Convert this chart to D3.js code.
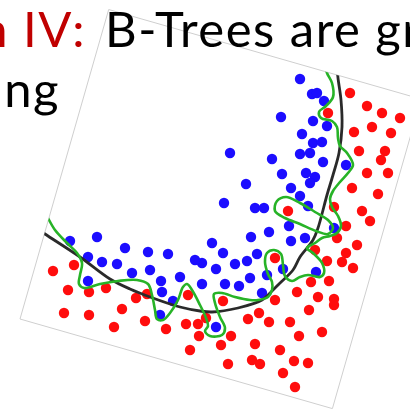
<!DOCTYPE html>
<html>
<head>
<meta charset="utf-8">
<script src="https://cdn.jsdelivr.net/npm/d3@7"></script>
<style>
  html, body { margin: 0; padding: 0; background: #fff; }
  svg { display: block; }
</style>
</head>
<body>
<script>
// points and curves (pixel units of the 410x409 frame)
const bluePts = [
  [300,79],[312,94],[317,93],[324,101],[281,117],[313,121],[327,126],[302,134],
  [313,143],[322,142],[230,153],[272,159],[300,154],[310,153],[323,162],[346,165],
  [282,174],[306,173],[315,177],[310,183],[246,184],[291,188],[300,196],[308,206],
  [224,203],[255,208],[264,208],[289,226],[269,232],[251,237],[305,238],[334,228],
  [212,243],[291,241],[223,253],[257,254],[247,261],[235,264],[202,263],[195,260],
  [216,269],[250,278],[267,275],[283,269],[316,272],[202,284],[225,284],[239,286],
  [262,293],[216,327],[180,277],[161,281],[162,292],[173,301],[160,315],[168,254],
  [148,252],[125,248],[97,237],[70,241],[88,257],[102,262],[117,264],[132,273],
  [150,270],[88,281]
];
const redPts = [
  [350,93],[367,106],[382,113],[400,118],[328,113],[354,132],[372,127],[391,133],
  [359,151],[385,151],[381,160],[367,173],[388,173],[352,188],[378,194],[334,207],
  [362,211],[370,221],[346,226],[288,211],[337,238],[357,245],[315,250],[346,253],
  [342,262],[327,261],[353,268],[311,282],[329,281],[297,292],[318,297],[334,299],
  [334,305],[309,310],[290,322],[299,336],[322,332],[280,350],[294,361],[308,363],
  [283,373],[295,387],[275,258],[275,300],[223,301],[188,295],[259,313],[248,319],
  [269,322],[166,329],[186,324],[198,324],[206,318],[199,336],[231,336],[221,345],
  [255,344],[190,350],[228,364],[252,360],[260,364],[68,290],[89,292],[106,288],
  [64,313],[89,315],[122,309],[114,327],[136,298],[147,294],[145,321],[53,271],
  [74,265]
];
const blackCurve = [
  [38,229],[45,234],[80,257],[110,279],[130,289],[150,297],[180,307],[200,311],
  [212,312],[238,308],[262,300],[270,293],[280,283],[293,270],[300,257],[313,240],
  [318,228],[327,195],[333,175],[339,153],[342,127],[341,100],[338,78],[337,66]
];
const greenCurve = [
  [44,210],[48,218],[55,230],[67,243],[77,253],[82,263],[80,275],[79,284],[84,288],
  [100,284],[118,281],[137,280],[148,284],[152,295],[155,310],[157,319],[163,320],
  [170,313],[178,300],[183,287],[187,284],[192,290],[200,305],[206,318],[208,326],
  [205,331],[210,336],[222,335],[225,328],[220,317],[215,303],[214,294],[222,293],
  [235,297],[250,300],[258,300],[268,297],[272,290],[272,282],[268,274],[265,262],
  [267,253],[274,250],[281,254],[283,265],[285,276],[292,281],[300,277],[308,275],
  [320,277],[324,273],[322,263],[313,253],[307,248],[315,243],[322,238],[330,236],
  [337,233],[341,226],[338,216],[332,207],[330,199],[333,191],[340,182],[348,173],
  [353,165],[347,153],[340,146],[338,138],[337,127],[332,121],[321,118],[319,112],
  [326,106],[333,97],[332,83],[327,73],[325,64]
];
const greenLoop = [
  [277,201],[286,197],[300,203],[315,212],[328,220],[333,228],[328,234],[316,231],
  [300,224],[285,218],[275,211]
];
const panelCorners = [[108.7,9.5],[421.1,99.1],[332.4,408.6],[20,319]];
const titleRed = "n IV:";
const titleBlack = "B-Trees are gr";
const titleLine2 = "ing";

const W = 410, H = 409;
const svg = d3.select("body").append("svg").attr("width", W).attr("height", H);
const x = d3.scaleLinear().domain([0, 410]).range([0, W]);
const y = d3.scaleLinear().domain([0, 409]).range([0, H]);

const defs = svg.append("defs");
defs.append("clipPath").attr("id", "panel-clip")
  .append("polygon")
  .attr("points", panelCorners.map(d => x(d[0]) + "," + y(d[1])).join(" "));
defs.append("filter").attr("id", "soft")
  .append("feGaussianBlur").attr("stdDeviation", 0.6);

// the rotated white panel
svg.append("polygon")
  .attr("points", panelCorners.map(d => x(d[0]) + "," + y(d[1])).join(" "))
  .attr("fill", "#fff")
  .attr("stroke", "#cfcfcf")
  .attr("stroke-width", 1);

let g = svg.append("g").attr("clip-path", "url(#panel-clip)");
let dots = g.append("g").attr("filter", "url(#soft)");

dots.selectAll(".red")
  .data(redPts)
  .enter().append("circle")
  .attr("class", "red")
  .attr("cx", d => x(d[0]))
  .attr("cy", d => y(d[1]))
  .attr("r", 5.2)
  .attr("fill", "#ff0d0d");

dots.selectAll(".blue")
  .data(bluePts)
  .enter().append("circle")
  .attr("class", "blue")
  .attr("cx", d => x(d[0]))
  .attr("cy", d => y(d[1]))
  .attr("r", 5.2)
  .attr("fill", "#1a0dff");

let line = d3.line()
  .x(d => x(d[0]))
  .y(d => y(d[1]))
  .curve(d3.curveCatmullRom.alpha(0.5));

g.append("path")
  .attr("d", line(blackCurve))
  .attr("fill", "none")
  .attr("stroke", "#2b2b2b")
  .attr("stroke-width", 2.8)
  .attr("filter", "url(#soft)");

g.append("path")
  .attr("d", line(greenCurve))
  .attr("fill", "none")
  .attr("stroke", "#27b327")
  .attr("stroke-width", 2.6)
  .attr("stroke-linejoin", "round");

g.append("path")
  .attr("d", d3.line().x(d => x(d[0])).y(d => y(d[1]))
    .curve(d3.curveCatmullRomClosed.alpha(0.5))(greenLoop))
  .attr("fill", "none")
  .attr("stroke", "#27b327")
  .attr("stroke-width", 2.6);

// slide title, cut off on both sides
let title = svg.append("g")
  .attr("font-family", "Lato, 'Open Sans', sans-serif")
  .attr("font-size", 49)
  .attr("letter-spacing", 1.5);

title.append("text")
  .attr("x", 86).attr("y", 47)
  .attr("text-anchor", "end")
  .attr("fill", "#c00000")
  .text(titleRed);

title.append("text")
  .attr("x", 105).attr("y", 47)
  .attr("fill", "#000")
  .text(titleBlack);

title.append("text")
  .attr("x", 60).attr("y", 107)
  .attr("text-anchor", "end")
  .attr("fill", "#000")
  .text(titleLine2);
</script>
</body>
</html>
